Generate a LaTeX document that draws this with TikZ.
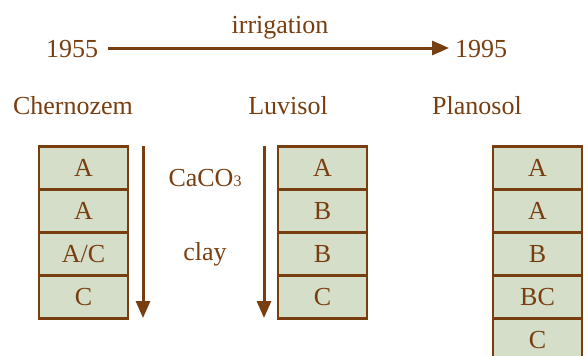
\documentclass[tikz,border=0pt]{standalone}
\usepackage{fontspec}
\setmainfont{Liberation Serif}
\usetikzlibrary{arrows.meta}
\definecolor{soilbrown}{RGB}{120,62,16}
\definecolor{soilfill}{RGB}{212,222,200}
\begin{document}
\begin{tikzpicture}[x=1pt,y=-1pt,
  every node/.style={text=soilbrown,font=\fontsize{26}{30}\selectfont},
  horizon/.style={draw=soilbrown,fill=soilfill,line width=2.6pt,minimum width=89pt,minimum height=43pt,inner sep=0pt,anchor=center},
  flow/.style={draw=soilbrown,line width=3pt,-{Triangle[length=17pt,width=14pt]}},
  lab/.style={inner sep=0pt,anchor=base}]
\useasboundingbox (0,0) rectangle (587,356);
\clip (0,0) rectangle (587,356);
% time line
\node[lab] (y1) at (72,57) {1955};
\node[lab] (y2) at (481,57) {1995};
\node[lab] (irr) at (280,33) {irrigation};
\coordinate (t1) at (108,48);
\coordinate (t2) at (449,48);
\draw[flow] (t1) -- (t2);
% profile names
\node[lab] (n1) at (73,114) {Chernozem};
\node[lab] (n2) at (288,114) {Luvisol};
\node[lab] (n3) at (477,114) {Planosol};
% Chernozem
\node[horizon] (c1) at (83.5,168) {A};
\node[horizon] (c2) at (83.5,211) {A};
\node[horizon] (c3) at (83.5,254) {A/C};
\node[horizon] (c4) at (83.5,297) {C};
% Luvisol
\node[horizon] (l1) at (322.5,168) {A};
\node[horizon] (l2) at (322.5,211) {B};
\node[horizon] (l3) at (322.5,254) {B};
\node[horizon] (l4) at (322.5,297) {C};
% Planosol
\node[horizon] (p1) at (537.5,168) {A};
\node[horizon] (p2) at (537.5,211) {A};
\node[horizon] (p3) at (537.5,254) {B};
\node[horizon] (p4) at (537.5,297) {BC};
\node[horizon] (p5) at (537.5,340) {C};
% processes
\node[lab] (caco) at (205,186) {CaCO{\fontsize{16}{18}\selectfont 3}};
\node[lab] (clay) at (205,260) {clay};
\coordinate (a1s) at (143,146);
\coordinate (a1e) at (143,318);
\coordinate (a2s) at (264,146);
\coordinate (a2e) at (264,318);
\draw[flow] (a1s) -- (a1e);
\draw[flow] (a2s) -- (a2e);
\end{tikzpicture}
\end{document}
